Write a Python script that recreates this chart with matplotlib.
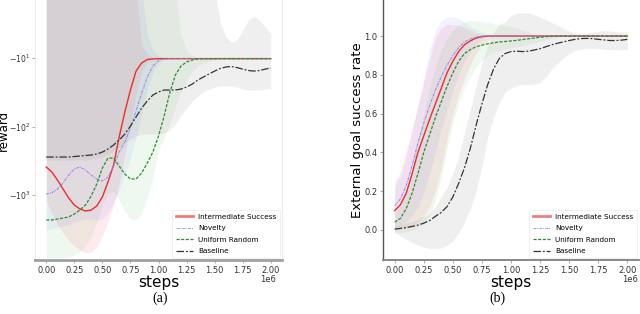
import numpy as np
import matplotlib
matplotlib.use('Agg')
import matplotlib.pyplot as plt
from matplotlib.lines import Line2D
from matplotlib.ticker import NullLocator, FixedLocator, ScalarFormatter

# ---------------- data ----------------
steps = np.linspace(0, 2.0e6, 41)
labels = ["Intermediate Success", "Novelty", "Uniform Random", "Baseline"]

# (a) reward
reward_is = [-390, -461, -604, -817, -1106, -1399, -1600, -1713, -1656, -1448, -1069, -646, -365, -142,
             -61.4, -29.3, -15.5, -11.8, -10.5, -10.3] + [-10.2] * 21
reward_nov = [-966, -935, -817, -668, -511, -417, -390, -431, -511, -584, -625, -546, -378, -236, -168,
              -105, -59.4, -32.4, -18.9, -13.1, -10.9, -10.3] + [-10.2] * 19
reward_uni = [-2317, -2317, -2240, -2167, -2094, -1893, -1656, -1399, -1035, -691, -403, -289, -289, -378,
              -494, -584, -584, -478, -341, -236, -138, -70.3, -32.4, -17.7, -13.1, -11.4, -10.7, -10.3] + [-10.2] * 13
reward_base = [-279] * 5 + [-274, -270, -265, -261, -252, -236, -213, -186, -157, -129, -98.4, -72.6, -53.7,
               -42.4, -34.7, -31.3, -29.3, -29.3, -29.3, -28.4, -26.5, -24.0, -21.0, -18.9, -17.1, -15.5,
               -14.2, -13.5, -13.3, -13.8, -14.5, -15.2, -15.5, -15.2, -14.5, -14.0]

reward_is_lo = [-1183, -1832, -2742, -3587, -4539, -5555, -6357, -7031, -6800, -5741, -3974, -2479, -1399,
                -668, -261, -95, -34.7, -16.0, -11.8, -10.7, -10.3] + [-10.2] * 20
reward_is_hi = [-1] * 17 + [-6.46, -8.75, -9.67, -10.1] + [-10.2] * 20
reward_nov_lo = [-3243, -3135, -2931, -2836, -2742, -2479, -2317, -2240, -2240, -2317, -2240, -1832, -1309,
                 -845, -511, -289, -147, -67.9, -29.3, -16.0, -11.8, -10.5] + [-10.2] * 19
reward_nov_hi = [-1] * 18 + [-4.32, -7.64, -9.35, -10.1] + [-10.2] * 19
reward_uni_lo = [-8318, -8318, -8318, -8318, -8039, -7516, -6800, -5555, -3974, -2479, -1399, -935, -904,
                 -1183, -1713, -2240, -2317, -1832, -1106, -565, -220, -147, -92, -51.9, -31.3, -21.0, -16.0,
                 -13.1, -11.8, -11.1, -10.7, -10.3] + [-10.2] * 9
reward_uni_hi = [-1] * 24 + [-4.61, -7.91, -9.35, -10.0] + [-10.2] * 13
reward_base_lo = [-308] * 8 + [-298, -289, -270, -252, -228, -199, -174, -152, -138, -129, -129, -129, -129,
                  -124, -112, -92, -67.9, -53.7, -42.4, -35.9, -31.3, -28.4, -26.5, -25.6, -25.6, -25.6,
                  -26.5, -28.4, -29.3, -29.3, -29.3, -28.4, -27.4]
reward_base_hi = [-1] * 31 + [-2.98, -4.93, -5.84, -5.46, -3.90, -2.79, -2.44, -2.79, -3.52, -4.32]

# (b) external goal success rate
succ_is = [0.10, 0.13, 0.19, 0.29, 0.40, 0.485, 0.57, 0.65, 0.73, 0.81, 0.87, 0.92, 0.955, 0.975, 0.99,
           0.997] + [1.0] * 25
succ_nov = [0.125, 0.16, 0.23, 0.33, 0.45, 0.55, 0.64, 0.72, 0.79, 0.85, 0.90, 0.94, 0.97, 0.985,
            0.995] + [1.0] * 26
succ_uni = [0.04, 0.06, 0.11, 0.19, 0.29, 0.40, 0.49, 0.58, 0.66, 0.74, 0.81, 0.87, 0.91, 0.93, 0.945,
            0.953, 0.96, 0.965, 0.97, 0.972, 0.975, 0.978, 0.982, 0.986, 0.99, 0.994, 0.997] + [1.0] * 14
succ_base = [0.004, 0.008, 0.012, 0.018, 0.025, 0.035, 0.048, 0.07, 0.09, 0.12, 0.17, 0.24, 0.32, 0.42,
             0.54, 0.65, 0.75, 0.83, 0.885, 0.91, 0.92, 0.922, 0.92, 0.922, 0.928, 0.935, 0.945, 0.955,
             0.963, 0.97, 0.977, 0.983, 0.987, 0.988, 0.987, 0.983, 0.98, 0.977, 0.977, 0.979, 0.983]

succ_is_lo = [0.0, 0.005, 0.01, 0.02, 0.04, 0.07, 0.12, 0.2, 0.31, 0.47, 0.6, 0.7, 0.78, 0.85, 0.91,
              0.955, 0.98, 0.995] + [1.0] * 23
succ_is_hi = [0.22, 0.31, 0.41, 0.52, 0.64, 0.76, 0.88, 0.99, 1.04, 1.06, 1.06, 1.055, 1.045, 1.03,
              1.017, 1.008, 1.003] + [1.0] * 24
succ_nov_lo = [0.01, 0.02, 0.04, 0.07, 0.12, 0.19, 0.29, 0.40, 0.52, 0.62, 0.72, 0.80, 0.87, 0.92, 0.96,
               0.985] + [1.0] * 25
succ_nov_hi = [0.26, 0.27, 0.38, 0.51, 0.64, 0.78, 0.93, 1.03, 1.08, 1.095, 1.10, 1.09, 1.07, 1.05, 1.035,
               1.02, 1.008, 1.003] + [1.0] * 23
succ_uni_lo = [-0.01, -0.015, -0.01, 0.0, 0.01, 0.03, 0.07, 0.15, 0.27, 0.42, 0.55, 0.65, 0.73, 0.79, 0.84,
               0.875, 0.9, 0.915, 0.925, 0.932, 0.938, 0.945, 0.95, 0.958, 0.965, 0.972, 0.98, 0.988,
               0.995] + [1.0] * 12
succ_uni_hi = [0.09, 0.12, 0.2, 0.32, 0.46, 0.6, 0.73, 0.84, 0.93, 0.99, 1.03, 1.06, 1.075, 1.08, 1.08,
               1.075, 1.07, 1.065, 1.06, 1.055, 1.05, 1.04, 1.03, 1.02, 1.01, 1.005, 1.002] + [1.0] * 14
succ_base_lo = [-0.015, -0.03, -0.05, -0.065, -0.078, -0.088, -0.094, -0.096, -0.093, -0.08, -0.055, -0.015,
                0.04, 0.11, 0.2, 0.33, 0.48, 0.58, 0.66, 0.71, 0.73, 0.745, 0.75, 0.75, 0.752, 0.76, 0.79,
                0.83, 0.86, 0.89, 0.91, 0.925, 0.933, 0.937, 0.937, 0.935, 0.932, 0.93, 0.93, 0.93, 0.93]
succ_base_hi = [0.02, 0.025, 0.035, 0.045, 0.055, 0.07, 0.085, 0.12, 0.17, 0.22, 0.29, 0.38, 0.5, 0.62,
                0.74, 0.86, 0.95, 1.02, 1.06, 1.075, 1.105, 1.118, 1.12, 1.12, 1.11, 1.097, 1.085, 1.07,
                1.055, 1.04, 1.027, 1.018, 1.013, 1.015, 1.02, 1.025, 1.028, 1.027, 1.023, 1.021, 1.02]

# ---------------- style ----------------
line_colors = ['#f22a2a', '#8585f0', '#2e8b2e', '#333333']
band_colors = ['#ff3355', '#4466ff', '#33aa33', '#888888']
band_alpha = [0.1, 0.08, 0.075, 0.13]
line_styles = ['-', (0, (3, 1, 1, 1)), (0, (2.5, 1.2)), (0, (6, 1.5, 1.5, 1.5))]
line_widths = [1.0, 0.7, 0.9, 0.9]

plt.rcParams['font.family'] = ['DejaVu Sans']
fig = plt.figure(figsize=(6.4, 3.14), dpi=100)

axL = fig.add_axes([35 / 640, 1 - 260 / 314, 247 / 640, 260 / 314])
axR = fig.add_axes([383 / 640, 1 - 260 / 314, 256 / 640, 260 / 314])


def draw(ax, means, los, his):
    for lo, hi, bc, ba in zip(los, his, band_colors, band_alpha):
        ax.fill_between(steps, lo, hi, color=bc, alpha=ba, linewidth=0)
    for m, lc, ls, lw, lab in zip(means, line_colors, line_styles, line_widths, labels):
        ax.plot(steps, m, color=lc, linestyle=ls, linewidth=lw, label=lab)
    handles = [Line2D([], [], color='#f47a7a', lw=2.0, ls='-'),
               Line2D([], [], color='#9a9af0', lw=0.7, ls=line_styles[1]),
               Line2D([], [], color='#2e8b2e', lw=0.9, ls=line_styles[2]),
               Line2D([], [], color='#333333', lw=0.9, ls=line_styles[3])]
    leg = ax.legend(handles, labels, loc='lower right', fontsize=5.2, frameon=True, framealpha=1,
                    edgecolor='#eeeeee', fancybox=False, handlelength=2.4, borderpad=0.55,
                    labelspacing=0.75, borderaxespad=0.25, handletextpad=0.7)
    leg.get_frame().set_linewidth(0.6)


draw(axL, [reward_is, reward_nov, reward_uni, reward_base],
     [reward_is_lo, reward_nov_lo, reward_uni_lo, reward_base_lo],
     [reward_is_hi, reward_nov_hi, reward_uni_hi, reward_base_hi])
draw(axR, [succ_is, succ_nov, succ_uni, succ_base],
     [succ_is_lo, succ_nov_lo, succ_uni_lo, succ_base_lo],
     [succ_is_hi, succ_nov_hi, succ_uni_hi, succ_base_hi])

# left axes
axL.set_yscale('symlog', linthresh=1)
axL.set_ylim(-8892, -1.42)
axL.yaxis.set_major_locator(FixedLocator([-1000, -100, -10]))
axL.yaxis.set_minor_locator(NullLocator())
axL.set_xlim(-0.1e6, 2.1e6)
axL.set_ylabel('reward', fontsize=8.5)
axL.yaxis.set_label_coords(-0.1, 0.5)
for s in ['left', 'right']:
    axL.spines[s].set_color('#e6e6e6')
    axL.spines[s].set_linewidth(0.6)
axL.spines['top'].set_visible(False)
axL.spines['bottom'].set_color('#a0a0a0')
axL.spines['bottom'].set_linewidth(2.0)

# right axes
axR.set_xlim(-0.1e6, 2.1e6)
axR.set_ylim(-0.155, 1.186)
axR.set_yticks([0.0, 0.2, 0.4, 0.6, 0.8, 1.0])
axR.set_ylabel('External goal success rate', fontsize=9.5)
axR.yaxis.set_label_coords(-0.075, 0.5)
axR.spines['top'].set_visible(False)
axR.spines['right'].set_visible(False)
axR.spines['left'].set_color('#555555')
axR.spines['left'].set_linewidth(1.0)
axR.spines['bottom'].set_color('#888888')
axR.spines['bottom'].set_linewidth(1.4)

for ax in (axL, axR):
    ax.set_xticks([0, 0.25e6, 0.5e6, 0.75e6, 1.0e6, 1.25e6, 1.5e6, 1.75e6, 2.0e6])
    f = ScalarFormatter(useMathText=False)
    f.set_scientific(True)
    f.set_powerlimits((0, 0))
    ax.xaxis.set_major_formatter(f)
    ax.xaxis.get_offset_text().set_visible(False)
    ax.tick_params(axis='both', labelsize=6, length=2, width=0.5, color='#888888', pad=2,
                   labelcolor='#333333')
    ax.set_xlabel('steps', fontsize=11, labelpad=0)
    ax.set_facecolor('white')
axL.tick_params(axis='y', labelsize=5.5, pad=1.5)

# scale multiplier text (as drawn by matplotlib's offset text in the original)
fig.text(276 / 640, 1 - 279.5 / 314, '1e6', fontsize=6, color='#333333', ha='right', va='center')
fig.text(638 / 640, 1 - 279.5 / 314, '1e6', fontsize=6, color='#333333', ha='right', va='center')

fig.text(160 / 640, 1 - 298 / 314, '(a)', fontsize=10, family='Liberation Serif', ha='center', va='center')
fig.text(497 / 640, 1 - 298 / 314, '(b)', fontsize=10, family='Liberation Serif', ha='center', va='center')

fig.savefig('out.png', dpi=100, facecolor='white')
